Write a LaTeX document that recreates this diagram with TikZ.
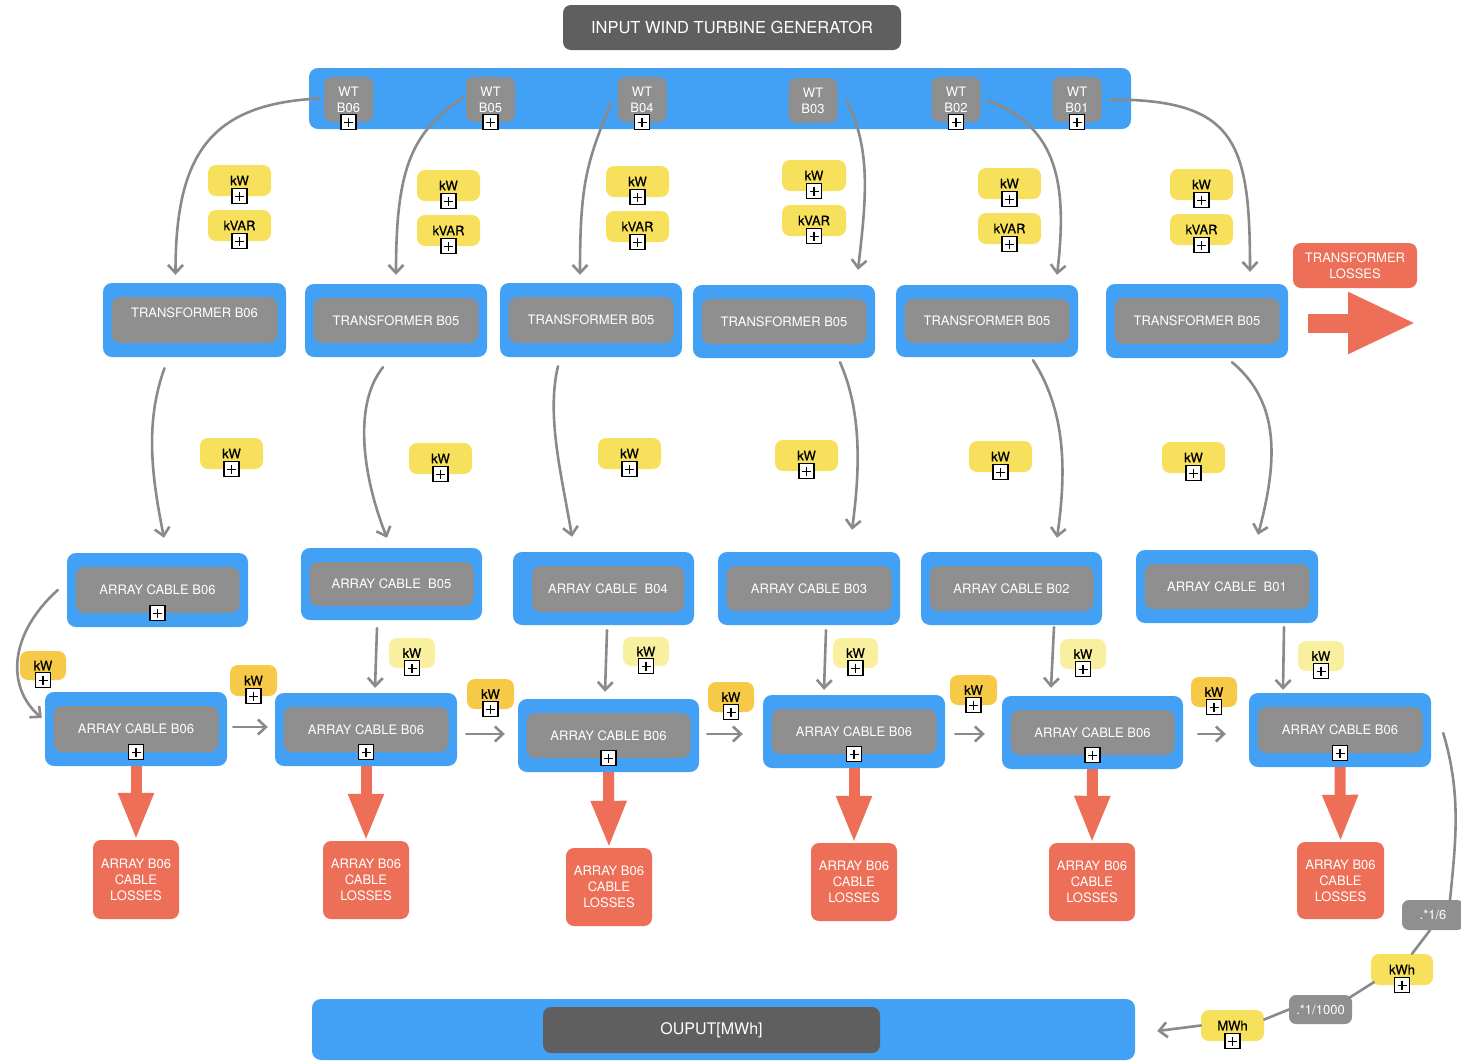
\documentclass[tikz,border=0pt]{standalone}
\usepackage{fontspec}
\setmainfont{TeX Gyre Heros}
\newfontfamily\badgefont[FakeBold=0.6]{TeX Gyre Heros}
\usetikzlibrary{arrows.meta,calc}

\definecolor{panelblue}{HTML}{43A1F5}
\definecolor{cellgray}{HTML}{8F8F8F}
\definecolor{headgray}{HTML}{5F5F5F}
\definecolor{lossred}{HTML}{EE6F57}
\definecolor{unityellow}{HTML}{F7E15C}
\definecolor{paleyellow}{HTML}{F8F09F}
\definecolor{flowyellow}{HTML}{F6CA46}
\definecolor{wiregray}{HTML}{8A8A8A}

\tikzset{
  every node/.style={font=\fontsize{13}{15.5}\selectfont},
  outerbox/.style={fill=panelblue, rounded corners=9pt, inner sep=0pt},
  innerbox/.style={fill=cellgray, rounded corners=9pt, text=white, align=center, inner sep=0pt},
  headbox/.style={fill=headgray, rounded corners=8pt, text=white, inner sep=0pt, font=\fontsize{16.5}{19}\selectfont},
  wtbox/.style={fill=cellgray, rounded corners=8pt, text=white, align=center, inner sep=0pt,
    minimum width=49pt, minimum height=45pt, font=\fontsize{13}{16}\selectfont},
  badge/.style={rounded corners=8pt, text=black, inner sep=0pt, font=\badgefont\fontsize{13}{15.5}\selectfont},
  unitbadge/.style={badge, fill=unityellow},
  palebadge/.style={badge, fill=paleyellow},
  flowbadge/.style={badge, fill=flowyellow},
  lossbox/.style={fill=lossred, rounded corners=8pt, text=white, align=center, inner sep=0pt,
    font=\fontsize{13}{16}\selectfont},
  factorbox/.style={fill=cellgray, rounded corners=7pt, text=white, inner sep=0pt},
  plusbox/.style={draw=black, fill=white, line width=1.2pt, minimum size=15pt, inner sep=0pt,
    path picture={\draw[black, line width=1.1pt]
      ([yshift=-3pt]path picture bounding box.north) -- ([yshift=3pt]path picture bounding box.south)
      ([xshift=3pt]path picture bounding box.west) -- ([xshift=-3pt]path picture bounding box.east);}},
  wire/.style={draw=wiregray, line width=2.6pt, line cap=round, -{Straight Barb[length=8pt,width=15pt]}},
  wireplain/.style={draw=wiregray, line width=2.6pt, line cap=round},
  lossarrow/.style={draw=lossred, line width=11pt, -{Triangle[length=47pt,width=33pt]}},
}

% outer blue panel with a grey inner box carrying the text
\newcommand\mkcell[6]{%
  \node[outerbox, minimum width={#4-#2}, minimum height={#5-#3}] (#1) at ({(#2+#4)/2},{(#3+#5)/2}) {};
  \node[innerbox, minimum width={#4-#2-17}, minimum height={#5-#3-28}] (#1-in) at (#1.center) {#6};}
% plain box: name, style, x1, y1, x2, y2, text
\newcommand\mkbox[7]{%
  \node[#2, minimum width={#5-#3}, minimum height={#6-#4}] (#1) at ({(#3+#5)/2},{(#4+#6)/2}) {#7};}
% small expander square on the lower edge of a node
\newcommand\mkplus[2]{\node[plusbox] (#1) at (#2.south) {};}
% badge with expander
\newcommand\mkbadge[7]{\mkbox{#1}{#2}{#3}{#4}{#5}{#6}{#7}\mkplus{#1-p}{#1}}

\begin{document}
\begin{tikzpicture}[x=1pt,y=-1pt]
\useasboundingbox (0,0) rectangle (1461,1061);
\fill[white] (0,0) rectangle (1461,1061);

% ---------- header and turbine bar ----------
\mkbox{head}{headbox}{563}{5}{901}{50}{INPUT WIND TURBINE GENERATOR}
\mkbox{wtbar}{outerbox}{309}{68}{1131}{129}{}

\node[wtbox] (wt6) at (348.5,99.5) {WT\\B06}; \mkplus{wt6-p}{wt6}
\node[wtbox] (wt5) at (490.5,99.5) {WT\\B05}; \mkplus{wt5-p}{wt5}
\node[wtbox] (wt4) at (642,99.5) {WT\\B04};   \mkplus{wt4-p}{wt4}
\node[wtbox] (wt3) at (813,100.5) {WT\\B03};
\node[wtbox] (wt2) at (956,99.5) {WT\\B02};   \mkplus{wt2-p}{wt2}
\node[wtbox] (wt1) at (1077,99.5) {WT\\B01};  \mkplus{wt1-p}{wt1}

% ---------- kW / kVAR readings ----------
\mkbadge{kw1}{unitbadge}{208}{165}{271}{196}{kW}
\mkbadge{kv1}{unitbadge}{208}{210}{271}{241}{kVAR}
\mkbadge{kw2}{unitbadge}{417}{170}{480}{201}{kW}
\mkbadge{kv2}{unitbadge}{417}{215}{480}{246}{kVAR}
\mkbadge{kw3}{unitbadge}{606}{166}{669}{197}{kW}
\mkbadge{kv3}{unitbadge}{606}{211}{669}{242}{kVAR}
\mkbadge{kw4}{unitbadge}{782}{160}{846}{191}{kW}
\mkbadge{kv4}{unitbadge}{782}{205}{846}{236}{kVAR}
\mkbadge{kw5}{unitbadge}{978}{168}{1041}{199}{kW}
\mkbadge{kv5}{unitbadge}{978}{213}{1041}{244}{kVAR}
\mkbadge{kw6}{unitbadge}{1170}{169}{1233}{200}{kW}
\mkbadge{kv6}{unitbadge}{1170}{214}{1233}{245}{kVAR}

% ---------- transformers ----------
\mkcell{t1}{103}{283}{286}{357}{TRANSFORMER B06\\\mbox{}}
\mkcell{t2}{305}{284}{487}{357}{TRANSFORMER B05}
\mkcell{t3}{500}{283}{682}{357}{TRANSFORMER B05}
\mkcell{t4}{693}{285}{875}{358}{TRANSFORMER B05}
\mkcell{t5}{896}{285}{1078}{357}{TRANSFORMER B05}
\mkcell{t6}{1106}{284}{1288}{358}{TRANSFORMER B05}

\mkbox{tloss}{lossbox}{1293}{243}{1417}{288}{TRANSFORMER\\LOSSES}
\coordinate (tl-a) at (1308,323);
\coordinate (tl-b) at (1416,323);
\draw[draw=lossred, line width=19pt, -{Triangle[length=68pt,width=57pt]}] (tl-a) -- (tl-b);

% ---------- transformer outputs ----------
\mkbadge{m1}{unitbadge}{200}{438}{263}{469}{kW}
\mkbadge{m2}{unitbadge}{409}{443}{472}{474}{kW}
\mkbadge{m3}{unitbadge}{598}{438}{661}{469}{kW}
\mkbadge{m4}{unitbadge}{775}{440}{838}{471}{kW}
\mkbadge{m5}{unitbadge}{969}{441}{1032}{472}{kW}
\mkbadge{m6}{unitbadge}{1162}{442}{1225}{473}{kW}

% ---------- array cables, first row ----------
\mkcell{a1}{67}{553}{248}{627}{ARRAY CABLE B06} \mkplus{a1-p}{a1-in}
\mkcell{a2}{301}{548}{482}{620}{ARRAY CABLE~ B05}
\node[outerbox, minimum width=181pt, minimum height=73pt] (a3) at (603.5,588.5) {};
\node[innerbox, minimum width=152pt, minimum height=46pt] (a3-in) at (608,589) {ARRAY CABLE~ B04};
\mkcell{a4}{718}{552}{900}{625}{ARRAY CABLE B03}
\mkcell{a5}{921}{552}{1102}{625}{ARRAY CABLE B02}
\mkcell{a6}{1136}{550}{1318}{623}{ARRAY CABLE~ B01}

% ---------- array cables, second row ----------
\mkcell{b1}{45}{692}{227}{766}{ARRAY CABLE B06}   \mkplus{b1-p}{b1-in}
\mkcell{b2}{275}{693}{457}{766}{ARRAY CABLE B06}  \mkplus{b2-p}{b2-in}
\mkcell{b3}{518}{699}{699}{772}{ARRAY CABLE B06}  \mkplus{b3-p}{b3-in}
\mkcell{b4}{763}{695}{945}{768}{ARRAY CABLE B06}  \mkplus{b4-p}{b4-in}
\mkcell{b5}{1002}{696}{1183}{769}{ARRAY CABLE B06} \mkplus{b5-p}{b5-in}
\mkcell{b6}{1249}{693}{1431}{767}{ARRAY CABLE B06} \mkplus{b6-p}{b6-in}

\mkbadge{v2}{palebadge}{389}{638}{435}{668}{kW}
\mkbadge{v3}{palebadge}{623}{637}{669}{666}{kW}
\mkbadge{v4}{palebadge}{833}{638}{878}{668}{kW}
\mkbadge{v5}{palebadge}{1060}{639}{1106}{669}{kW}
\mkbadge{v6}{palebadge}{1298}{641}{1344}{671}{kW}

\mkbadge{h1}{flowbadge}{20}{651}{66}{680}{kW}
\mkbadge{h2}{flowbadge}{230}{665}{277}{696}{kW}
\mkbadge{h3}{flowbadge}{467}{679}{514}{709}{kW}
\mkbadge{h4}{flowbadge}{708}{682}{754}{712}{kW}
\mkbadge{h5}{flowbadge}{950}{675}{997}{705}{kW}
\mkbadge{h6}{flowbadge}{1191}{677}{1237}{707}{kW}

% ---------- cable losses ----------
\mkbox{l1}{lossbox}{93}{840}{179}{919}{ARRAY B06\\CABLE\\LOSSES}
\mkbox{l2}{lossbox}{323}{841}{409}{919}{ARRAY B06\\CABLE\\LOSSES}
\mkbox{l3}{lossbox}{566}{848}{652}{926}{ARRAY B06\\CABLE\\LOSSES}
\mkbox{l4}{lossbox}{811}{843}{897}{921}{ARRAY B06\\CABLE\\LOSSES}
\mkbox{l5}{lossbox}{1049}{843}{1135}{921}{ARRAY B06\\CABLE\\LOSSES}
\mkbox{l6}{lossbox}{1297}{842}{1384}{919}{ARRAY B06\\CABLE\\LOSSES}

\foreach \i in {1,...,6} {\draw[lossarrow] (b\i.south) -- (l\i.north);}

% ---------- output conversion ----------
\mkbox{c16}{factorbox}{1402}{900}{1464}{930}{.*1/6}
\mkbadge{kwh}{unitbadge}{1371}{954}{1433}{985}{kWh}
\mkbox{c1000}{factorbox}{1289}{995}{1352}{1024}{.*1/1000}
\mkbadge{mwh}{unitbadge}{1201}{1010}{1264}{1041}{MWh}

\mkbox{out}{outerbox}{312}{999}{1135}{1060}{}
\mkbox{out-in}{headbox}{543}{1007}{880}{1053}{\fontsize{16}{19}\selectfont OUPUT[MWh]}

% ---------- turbines to transformers ----------
\draw[wire] ($(wt6.west)+(-4,-1)$) .. controls +(-110,5) and +(0,-120) .. ($(t1.north)+(-19,-8)$);
\draw[wire] ($(wt5.west)+(-3,-2)$) .. controls +(-50,35) and +(0,-110) .. ($(t2.north)+(0,-9)$);
\draw[wire] ($(wt4.west)+(-6,3)$) .. controls +(-25,60) and +(0,-90) .. ($(t3.north)+(-11,-8)$);
\draw[wire] ($(wt3.east)+(9,0)$) .. controls +(25,50) and +(8,-70) .. ($(t4.north)+(74,-15)$);
\draw[wire] ($(wt2.east)+(7,1)$) .. controls +(65,25) and +(12,-100) .. ($(t5.north)+(70,-10)$);
\draw[wire] ($(wt1.east)+(9,0)$) .. controls +(125,0) and +(0,-130) .. ($(t6.north)+(53,-12)$);

% ---------- transformers to array cables ----------
\draw[wire] ($(t1.south)+(-30,11)$) .. controls +(-20,55) and +(-12,-60) .. ($(a1.north)+(6.5,-15)$);
\draw[wire] ($(t2.south)+(-13,10)$) .. controls +(-32,40) and +(-22,-55) .. ($(a2.north)+(-4.5,-10)$);
\draw[wire] ($(t3.south)+(-33,9)$) .. controls +(-12,50) and +(-10,-60) .. ($(a3.north)+(-31.5,-15)$);
\draw[wire] ($(t4.south)+(56,4)$) .. controls +(22,50) and +(8,-60) .. ($(a4.north)+(43,-22)$);
\draw[wire] ($(t5.south)+(46,3)$) .. controls +(32,50) and +(10,-70) .. ($(a5.north)+(45.5,-14)$);
\draw[wire] ($(t6.south)+(35,4)$) .. controls +(48,40) and +(20,-75) .. ($(a6.north)+(31,-15)$);

% ---------- first row to second row ----------
\draw[wire] ($(a1.west)+(-9,0)$) .. controls +(-50,45) and +(-35,-30) .. ($(b1.west)+(-3,-11)$);
\draw[wire] ($(a2.south)+(-14.5,8)$) -- ($(b2.north)+(9,-5)$);
\draw[wire] ($(a3.south)+(3.5,5)$) -- ($(b3.north)+(-3.5,-7)$);
\draw[wire] ($(a4.south)+(17,5)$) -- ($(b4.north)+(-30,-5)$);
\draw[wire] ($(a5.south)+(42.5,2)$) -- ($(b5.north)+(-41.5,-8)$);
\draw[wire] ($(a6.south)+(57,4)$) -- ($(b6.north)+(-57,-3)$);

% ---------- along the second row ----------
\draw[wire] ($(b1.east)+(6,-2)$) -- ($(b2.west)+(-7,-2.5)$);
\draw[wire] ($(b2.east)+(9,4.5)$) -- ($(b3.west)+(-13,-1.5)$);
\draw[wire] ($(b3.east)+(8,-1.5)$) -- ($(b4.west)+(-20,2.5)$);
\draw[wire] ($(b4.east)+(10,2.5)$) -- ($(b5.west)+(-17,1.5)$);
\draw[wire] ($(b5.east)+(15,1.5)$) -- ($(b6.west)+(-23,4)$);

% ---------- energy conversion chain ----------
\draw[wireplain] ($(b6.east)+(12,3)$) .. controls +(18,60) and +(6,-60) .. ($(c16.north)+(17,0)$);
\draw[wireplain] ($(c16.south)+(-3,0)$) -- ($(kwh.north)+(10,0)$);
\draw[wireplain] ($(kwh.south west)+(3,-3)$) -- ($(c1000.north east)+(-3,3)$);
\draw[wireplain] (c1000.west) -- ($(mwh.east)+(0,-6)$);
\draw[wire] (mwh.west) -- ($(out.east)+(22,1.5)$);

\end{tikzpicture}
\end{document}
